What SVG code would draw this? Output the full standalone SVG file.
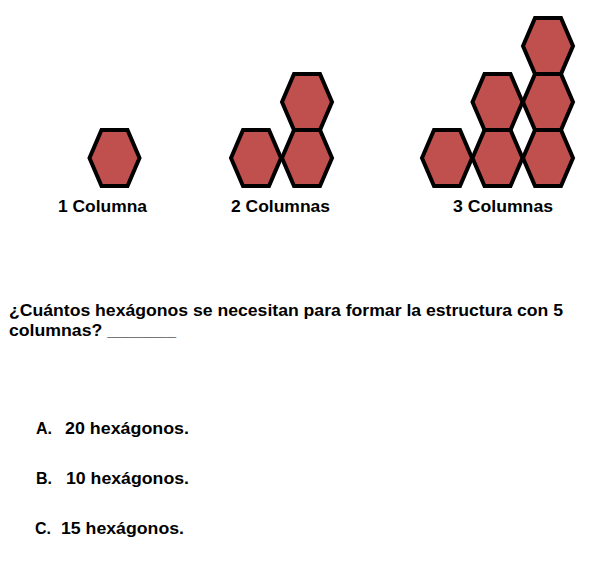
<svg xmlns="http://www.w3.org/2000/svg" xmlns:xlink="http://www.w3.org/1999/xlink" width="601" height="567" viewBox="0 0 601 567">
<style>
.hx{fill:#C0504D;stroke:#000;stroke-width:4;stroke-linejoin:miter}
.t{font-family:"Liberation Sans",Arial,sans-serif;font-weight:bold;font-size:16px;fill:#000}
</style>
<defs>
<polygon id="hex" class="hx" points="-25,0 -13,-28 13,-28 25,0 13,28 -13,28"/>
</defs>
<rect width="601" height="567" fill="#fff"/>
<g id="col1">
<use xlink:href="#hex" href="#hex" x="114.5" y="158"/>
</g>
<g id="col2">
<use href="#hex" x="256" y="158"/>
<use href="#hex" x="307" y="158"/>
<use href="#hex" x="307" y="102"/>
</g>
<g id="col3">
<use href="#hex" x="447" y="158"/>
<use href="#hex" x="497.5" y="158"/>
<use href="#hex" x="548" y="158"/>
<use href="#hex" x="497.5" y="102"/>
<use href="#hex" x="548" y="102"/>
<use href="#hex" x="548" y="46"/>
</g>
<g id="connectors"></g>
<g id="labels">
<text class="t" x="58" y="212" textLength="89" lengthAdjust="spacingAndGlyphs">1 Columna</text>
<text class="t" x="231" y="212" textLength="99" lengthAdjust="spacingAndGlyphs">2 Columnas</text>
<text class="t" x="453" y="212" textLength="100" lengthAdjust="spacingAndGlyphs">3 Columnas</text>
</g>
<g id="question">
<text class="t" x="9" y="316" textLength="554" lengthAdjust="spacingAndGlyphs">¿Cuántos hexágonos se necesitan para formar la estructura con 5</text>
<text class="t" x="9" y="336" textLength="167" lengthAdjust="spacingAndGlyphs">columnas? _______</text>
</g>
<g id="options">
<text class="t" x="36" y="434">A.</text>
<text class="t" x="65" y="434" textLength="124" lengthAdjust="spacingAndGlyphs">20 hexágonos.</text>
<text class="t" x="36" y="484">B.</text>
<text class="t" x="66" y="484" textLength="123" lengthAdjust="spacingAndGlyphs">10 hexágonos.</text>
<text class="t" x="35" y="534">C.</text>
<text class="t" x="61" y="534" textLength="123" lengthAdjust="spacingAndGlyphs">15 hexágonos.</text>
</g>
</svg>
